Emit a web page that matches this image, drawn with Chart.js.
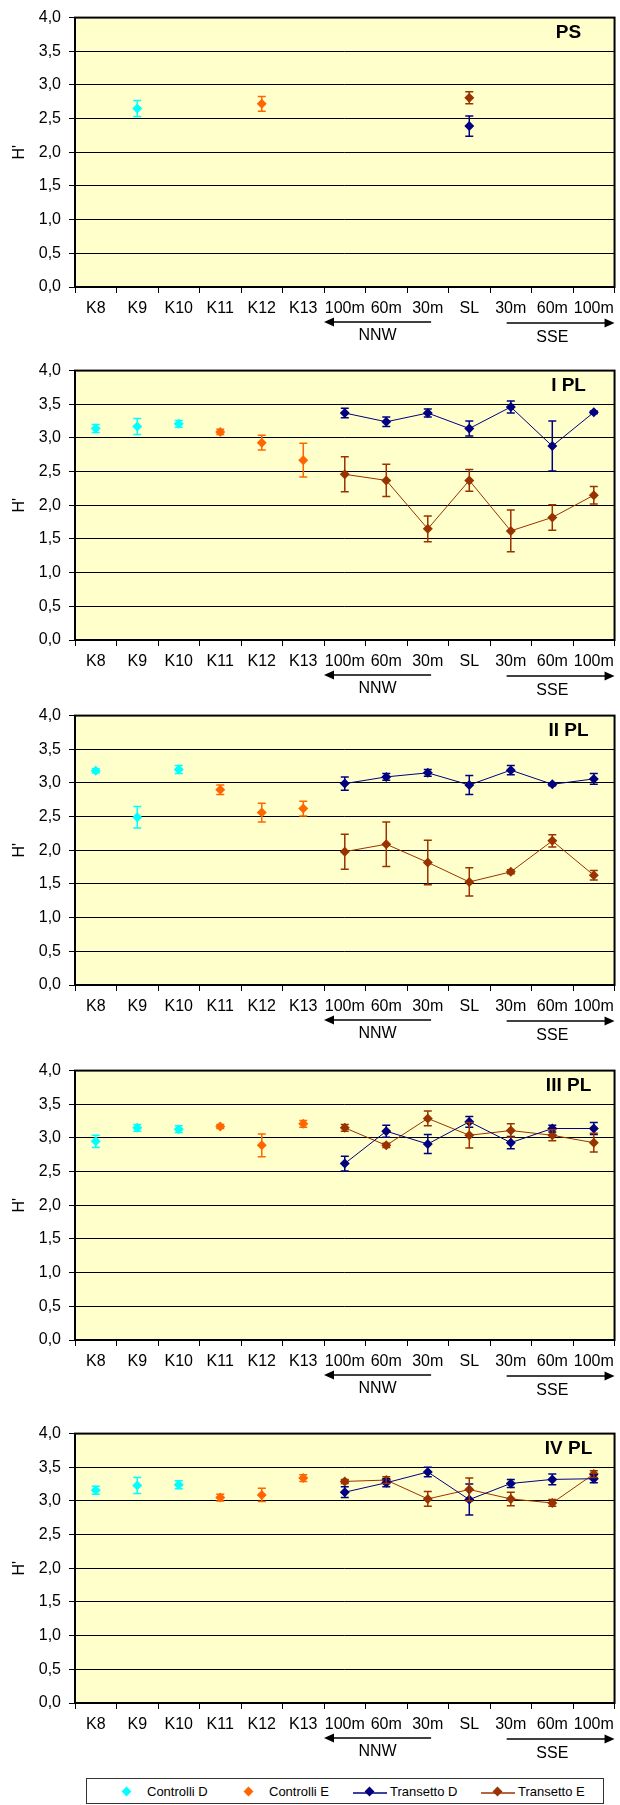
<!DOCTYPE html>
<html>
<head>
<meta charset="utf-8">
<script src="https://cdn.jsdelivr.net/npm/chart.js@4.4.1/dist/chart.umd.min.js"></script>
<style>
  body { margin: 0; background: #fff; }
  #page { position: relative; width: 620px; height: 1805px; overflow: hidden; }
  #page canvas { position: absolute; left: 0; }
  #legend { position: absolute; left: 86px; top: 1778px; width: 518px; height: 26px;
            border: 1px solid #333; box-sizing: border-box; background: #fff;
            font: 13px "Liberation Sans", Arial, sans-serif; color: #000; }
  #legend span { position: absolute; }
</style>
</head>
<body>
<div id="page"><div id="legend"></div></div>
<script>
// categorie asse x
const categories = ['K8', 'K9', 'K10', 'K11', 'K12', 'K13', '100m', '60m', '30m', 'SL', '30m', '60m', '100m'];
const panelTitles = ['PS', 'I PL', 'II PL', 'III PL', 'IV PL'];
const yTicks = [0, 0.5, 1, 1.5, 2, 2.5, 3, 3.5, 4];
const directions = ['NNW', 'SSE'];
const seriesNames = ['Controlli D', 'Controlli E', 'Transetto D', 'Transetto E'];
const seriesColors = ['#00FFFF', '#FF6600', '#000080', '#993300'];

// Controlli D (K8, K9, K10) - una riga per pannello
const ctrlDMean = [
    [null, 2.65, null],
    [3.14, 3.17, 3.21],
    [3.18, 2.49, 3.20],
    [2.95, 3.15, 3.13],
    [3.16, 3.23, 3.24]
];
const ctrlDErr = [
    [null, 0.12, null],
    [0.06, 0.12, 0.05],
    [0.03, 0.16, 0.06],
    [0.09, 0.05, 0.05],
    [0.06, 0.12, 0.06]
];

// Controlli E (K11, K12, K13)
const ctrlEMean = [
    [null, 2.72, null],
    [3.09, 2.93, 2.67],
    [2.90, 2.56, 2.62],
    [3.17, 2.89, 3.21],
    [3.05, 3.09, 3.34]
];
const ctrlEErr = [
    [null, 0.11, null],
    [0.04, 0.11, 0.25],
    [0.07, 0.14, 0.11],
    [0.03, 0.17, 0.05],
    [0.05, 0.10, 0.05]
];

// Transetto D (100m, 60m, 30m NNW, SL, 30m, 60m, 100m SSE)
const transDMean = [
    [null, null, null, 2.39, null, null, null],
    [3.37, 3.24, 3.37, 3.14, 3.46, 2.88, 3.38],
    [2.99, 3.09, 3.15, 2.97, 3.19, 2.98, 3.06],
    [2.62, 3.10, 2.91, 3.24, 2.93, 3.14, 3.14],
    [3.13, 3.27, 3.43, 3.02, 3.26, 3.32, 3.33]
];
const transDErr = [
    [null, null, null, 0.15, null, null, null],
    [0.07, 0.07, 0.06, 0.11, 0.09, 0.37, 0.02],
    [0.10, 0.05, 0.05, 0.14, 0.07, 0.02, 0.08],
    [0.11, 0.09, 0.14, 0.08, 0.09, 0.05, 0.09],
    [0.08, 0.06, 0.07, 0.23, 0.06, 0.08, 0.06]
];

// Transetto E
const transEMean = [
    [null, null, null, 2.81, null, null, null],
    [2.46, 2.37, 1.65, 2.37, 1.62, 1.82, 2.15],
    [1.98, 2.09, 1.82, 1.53, 1.68, 2.14, 1.63],
    [3.15, 2.89, 3.29, 3.04, 3.11, 3.04, 2.93],
    [3.29, 3.31, 3.03, 3.17, 3.03, 2.97, 3.40]
];
const transEErr = [
    [null, null, null, 0.09, null, null, null],
    [0.26, 0.24, 0.19, 0.16, 0.31, 0.19, 0.13],
    [0.26, 0.33, 0.33, 0.21, 0.03, 0.09, 0.07],
    [0.05, 0.03, 0.11, 0.19, 0.10, 0.08, 0.14],
    [0.03, 0.05, 0.11, 0.17, 0.10, 0.05, 0.05]
];

// posizione verticale dei pannelli nella pagina
const panelOffsets = [0, 353, 698, 1053, 1416];
const FONT = '"Liberation Sans", Arial, sans-serif';

Chart.defaults.font.family = FONT;
Chart.defaults.color = '#000';

// riempie l'area del grafico e disegna la cornice
const plotFrame = {
    id: 'plotFrame',
    beforeDraw(chart) {
        const { ctx, chartArea: a } = chart;
        ctx.save();
        ctx.fillStyle = '#FFFFCC';
        ctx.fillRect(a.left, a.top, a.width, a.height);
        ctx.restore();
    },
    beforeDatasetsDraw(chart) {
        const { ctx, chartArea: a } = chart;
        ctx.save();
        ctx.strokeStyle = '#000';
        ctx.lineWidth = 2;
        ctx.strokeRect(a.left, a.top, a.width, a.height);
        ctx.restore();
    }
};

// barre d'errore (media +/- errore)
const errorBars = {
    id: 'errorBars',
    afterDatasetsDraw(chart) {
        const ctx = chart.ctx;
        const y = chart.scales.y;
        chart.data.datasets.forEach((ds, i) => {
            if (!ds.errors) return;
            const meta = chart.getDatasetMeta(i);
            ctx.save();
            ctx.strokeStyle = ds.borderColor;
            ctx.lineWidth = 1.5;
            meta.data.forEach((pt, j) => {
                const v = ds.data[j], e = ds.errors[j];
                if (v == null || e == null) return;
                const top = y.getPixelForValue(v + e);
                const bot = y.getPixelForValue(v - e);
                ctx.beginPath();
                ctx.moveTo(pt.x, top); ctx.lineTo(pt.x, bot);
                ctx.moveTo(pt.x - 4, top); ctx.lineTo(pt.x + 4, top);
                ctx.moveTo(pt.x - 4, bot); ctx.lineTo(pt.x + 4, bot);
                ctx.stroke();
            });
            ctx.restore();
        });
    }
};

function drawArrow(ctx, from, to, y) {
    const dir = to > from ? 1 : -1;
    ctx.beginPath();
    ctx.moveTo(from, y);
    ctx.lineTo(to - dir * 8, y);
    ctx.stroke();
    ctx.beginPath();
    ctx.moveTo(to, y);
    ctx.lineTo(to - dir * 10, y - 4.5);
    ctx.lineTo(to - dir * 10, y + 4.5);
    ctx.closePath();
    ctx.fill();
}

// titolo del pannello e frecce NNW / SSE
const panelDecor = {
    id: 'panelDecor',
    afterDraw(chart, args, opts) {
        const { ctx, chartArea: a } = chart;
        const x = chart.scales.x;
        const w = x.getPixelForValue(1) - x.getPixelForValue(0);
        ctx.save();
        ctx.fillStyle = '#000';
        ctx.strokeStyle = '#000';
        ctx.lineWidth = 1.5;
        ctx.font = 'bold 19px ' + FONT;
        ctx.textAlign = 'center';
        ctx.textBaseline = 'middle';
        ctx.fillText(opts.title, a.right - 46, a.top + 15);

        const nnwFrom = x.getPixelForValue(8) + 0.08 * w;
        const nnwTo = x.getPixelForValue(6) - w / 2;
        drawArrow(ctx, nnwFrom, nnwTo, a.bottom + 35);
        const sseFrom = x.getPixelForValue(10) - 0.1 * w;
        const sseTo = x.getPixelForValue(12) + w / 2;
        drawArrow(ctx, sseFrom, sseTo, a.bottom + 36);

        ctx.font = '16px ' + FONT;
        ctx.fillText(directions[0], (nnwFrom + nnwTo) / 2, a.bottom + 49);
        ctx.fillText(directions[1], x.getPixelForValue(11), a.bottom + 51);
        ctx.restore();
    }
};

// porta i valori sulle 13 categorie
function spread(values, start) {
    return categories.map((c, i) => {
        const k = i - start;
        return k >= 0 && k < values.length ? values[k] : null;
    });
}

function createPanel(p) {
    const canvas = document.createElement('canvas');
    canvas.width = 620;
    canvas.height = 353;
    canvas.style.top = panelOffsets[p] + 'px';
    document.getElementById('page').appendChild(canvas);

    const datasets = [
        { label: seriesNames[0], data: spread(ctrlDMean[p], 0), errors: spread(ctrlDErr[p], 0), color: seriesColors[0], showLine: false },
        { label: seriesNames[1], data: spread(ctrlEMean[p], 3), errors: spread(ctrlEErr[p], 3), color: seriesColors[1], showLine: false },
        { label: seriesNames[2], data: spread(transDMean[p], 6), errors: spread(transDErr[p], 6), color: seriesColors[2], showLine: true },
        { label: seriesNames[3], data: spread(transEMean[p], 6), errors: spread(transEErr[p], 6), color: seriesColors[3], showLine: true }
    ].map(d => ({
        label: d.label,
        data: d.data,
        errors: d.errors,
        showLine: d.showLine,
        borderColor: d.color,
        backgroundColor: d.color,
        borderWidth: 1,
        pointStyle: 'rectRot',
        pointRadius: 5,
        pointBorderWidth: 0,
        pointBackgroundColor: d.color,
        spanGaps: false,
        tension: 0
    }));

    new Chart(canvas, {
        type: 'line',
        data: { labels: categories, datasets: datasets },
        options: {
            responsive: false,
            animation: false,
            devicePixelRatio: 1,
            layout: { padding: { top: 14, right: 3, left: 0, bottom: 0 } },
            scales: {
                x: {
                    type: 'category',
                    offset: true,
                    grid: { offset: true, drawOnChartArea: false, drawTicks: true, tickLength: 6, color: '#000', lineWidth: 1 },
                    border: { display: false },
                    ticks: { autoSkip: false, maxRotation: 0, minRotation: 0, padding: 6, color: '#000', font: { size: 16 } },
                    afterFit: s => { s.height = 66; }
                },
                y: {
                    min: 0,
                    max: 4,
                    afterBuildTicks: s => { s.ticks = yTicks.map(v => ({ value: v })); },
                    grid: { color: '#000', lineWidth: 1, drawTicks: true, tickLength: 6 },
                    border: { display: false },
                    ticks: {
                        padding: 8,
                        color: '#000',
                        font: { size: 16 },
                        callback: v => v.toFixed(1).replace('.', ',')
                    },
                    title: { display: true, text: "H'", color: '#000', font: { size: 16 }, padding: { top: 10, bottom: 0 } },
                    afterFit: s => { s.width = 75; }
                }
            },
            plugins: {
                legend: { display: false },
                tooltip: { enabled: false },
                panelDecor: { title: panelTitles[p] }
            }
        },
        plugins: [plotFrame, errorBars, panelDecor]
    });
}

panelTitles.forEach((t, p) => createPanel(p));

// legenda in basso
function createLegend() {
    const box = document.getElementById('legend');
    const markerX = [40, 162, 283, 411];
    seriesNames.forEach((name, i) => {
        const cx = markerX[i];
        if (i >= 2) {
            const line = document.createElement('span');
            line.style.cssText = `left:${cx - 17}px;top:13px;width:34px;height:1.5px;background:${seriesColors[i]};opacity:0.75`;
            box.appendChild(line);
        }
        const m = document.createElement('span');
        m.style.cssText = `left:${cx - 4}px;top:9px;width:7px;height:7px;background:${seriesColors[i]};transform:rotate(45deg)`;
        box.appendChild(m);
        const t = document.createElement('span');
        t.textContent = name;
        t.style.cssText = `left:${cx + 20}px;top:5px;line-height:16px`;
        box.appendChild(t);
    });
}
createLegend();
</script>
</body>
</html>
